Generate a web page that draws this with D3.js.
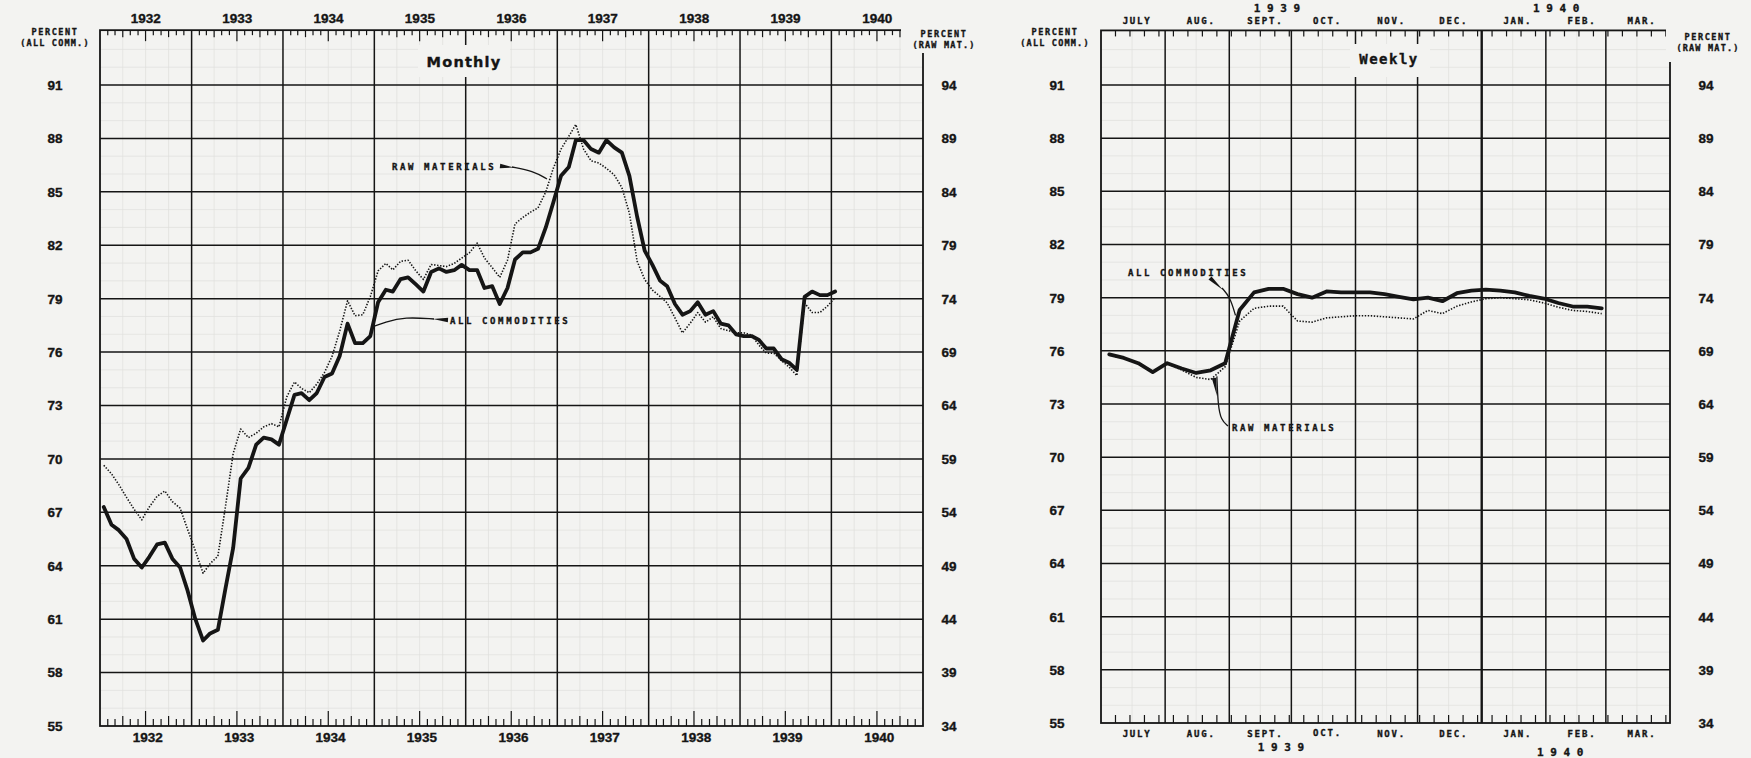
<!DOCTYPE html>
<html><head><meta charset="utf-8">
<script src="https://cdn.jsdelivr.net/npm/d3@7"></script>
<style>
body{margin:0;background:#f3f3f1;}
svg{display:block}
text{fill:#151515}
text.b{stroke:#151515;stroke-width:0.35px}
</style></head><body>
<svg id="c" width="1751" height="758"></svg>
<script>
// ---------- DATA ----------
const monthlyStart = [1932, 0];
const allCommMonthly = [
 67.3,66.3,66.0,65.5,64.4,63.9,64.5,65.2,65.3,64.4,63.9,62.6,
 61.0,59.8,60.2,60.4,62.7,65.0,68.9,69.5,70.8,71.2,71.1,70.8,
 72.2,73.6,73.7,73.3,73.7,74.6,74.8,75.8,77.6,76.5,76.5,76.9,
 78.8,79.5,79.4,80.1,80.2,79.8,79.4,80.5,80.7,80.5,80.6,80.9,
 80.6,80.6,79.6,79.7,78.7,79.6,81.2,81.6,81.6,81.8,83.0,84.4,
 85.9,86.4,87.9,87.9,87.4,87.2,87.9,87.5,87.2,85.9,83.6,81.7,
 80.9,80.0,79.7,78.7,78.1,78.3,78.8,78.1,78.3,77.6,77.5,77.0,
 76.9,76.9,76.7,76.2,76.2,75.6,75.4,75.0,79.1,79.4,79.2,79.2,
 79.4];
const rawMatMonthly = [
 58.4,57.6,56.6,55.4,54.3,53.3,54.5,55.5,56.0,55.0,54.4,52.4,
 50.4,48.3,49.2,49.9,54.5,59.5,61.8,61.0,61.4,62.0,62.3,62.0,
 64.8,66.2,65.6,65.2,66.0,67.1,68.6,71.0,73.8,72.4,72.5,74.2,
 76.6,77.3,76.7,77.5,77.6,76.6,75.8,77.2,77.1,77.0,77.3,77.8,
 78.3,79.2,77.8,76.9,76.0,77.6,81.0,81.6,82.1,82.5,84.0,86.2,
 88.0,89.2,90.3,88.0,86.9,86.7,86.2,85.6,84.4,82.0,77.5,75.8,
 74.8,74.2,73.6,72.2,70.8,71.7,72.7,71.8,72.3,71.2,71.0,70.8,
 70.8,70.6,69.7,68.9,68.9,68.2,67.6,66.8,73.6,72.7,72.7,73.3,
 74.1];
const weeklyDates = [
 "1939-07-05","1939-07-12","1939-07-19","1939-07-26","1939-08-02","1939-08-09","1939-08-16",
 "1939-08-23","1939-08-30","1939-09-06","1939-09-13","1939-09-20","1939-09-27","1939-10-04",
 "1939-10-11","1939-10-18","1939-10-25","1939-11-01","1939-11-08","1939-11-15","1939-11-22",
 "1939-11-29","1939-12-06","1939-12-13","1939-12-20","1939-12-27","1940-01-03","1940-01-10",
 "1940-01-17","1940-01-24","1940-01-31","1940-02-07","1940-02-14","1940-02-21","1940-02-28"];
const allCommWeekly = [
 75.8,75.6,75.3,74.8,75.3,75.0,74.75,74.9,75.3,78.3,79.3,79.5,79.5,79.2,
 79.0,79.35,79.3,79.3,79.3,79.2,79.05,78.9,79.0,78.8,79.25,79.4,79.45,79.4,
 79.3,79.1,78.95,78.7,78.5,78.5,78.4];
const rawMatWeekly = [
 68.6,68.3,67.8,67.0,67.8,67.2,66.5,66.3,67.5,71.8,73.0,73.2,73.2,71.8,
 71.7,72.1,72.2,72.3,72.3,72.2,72.1,72.0,72.8,72.5,73.2,73.6,73.9,74.0,
 73.9,73.8,73.5,73.1,72.8,72.7,72.5];
const yearLabels = ["1932","1933","1934","1935","1936","1937","1938","1939","1940"];
const monthLabels = ["JULY","AUG.","SEPT.","OCT.","NOV.","DEC.","JAN.","FEB.","MAR."];
const allCommTicks = [55,58,61,64,67,70,73,76,79,82,85,88,91];
const rawMatTicks  = [34,39,44,49,54,59,64,69,74,79,84,89,94];

// ---------- SETUP ----------
const svg = d3.select("#c");
const BG = "#f3f3f1", INK = "#151515";
svg.append("rect").attr("width",1751).attr("height",758).attr("fill",BG);
const mono = "'DejaVu Sans Mono', monospace";
const sans = "'Liberation Sans', Arial, sans-serif";
const parse = d3.timeParse("%Y-%m-%d");

const monthlyDates = allCommMonthly.map((d,i)=>new Date(monthlyStart[0], monthlyStart[1]+i, 16));
const wDates = weeklyDates.map(parse);

function drawPanel(o){
  const g = svg.append("g");
  const x = o.x, y = o.y, yr = o.yr;
  const [x0,x1] = x.range();
  const yTop = y(94.08), yBot = y(55);
  g.append("g").selectAll("line").data(d3.range(56,94,1).filter(v=>(v-55)%3!==0)).join("line")
    .attr("x1",x0).attr("x2",x1).attr("y1",d=>y(d)).attr("y2",d=>y(d))
    .attr("stroke","#e0e0dc").attr("stroke-width",0.7);
  g.append("g").selectAll("line").data(o.minorX).join("line")
    .attr("x1",d=>x(d)).attr("x2",d=>x(d)).attr("y1",yTop).attr("y2",yBot)
    .attr("stroke","#e0e0dc").attr("stroke-width",0.7);
  g.append("g").selectAll("line").data(allCommTicks.slice(1)).join("line")
    .attr("x1",x0).attr("x2",x1).attr("y1",d=>y(d)).attr("y2",d=>y(d))
    .attr("stroke",INK).attr("stroke-width",1.5);
  g.append("g").selectAll("line").data(o.majorX).join("line")
    .attr("x1",d=>x(d)).attr("x2",d=>x(d)).attr("y1",yTop).attr("y2",yBot)
    .attr("stroke",INK).attr("stroke-width",d=>o.heavyX && o.heavyX(d)?2.4:1.5);
  g.append("rect").attr("x",x0).attr("y",yTop).attr("width",x1-x0).attr("height",yBot-yTop)
    .attr("fill","none").attr("stroke",INK).attr("stroke-width",1.8);
  g.append("g").selectAll("line").data(o.ticks).join("line")
    .attr("x1",d=>x(d)).attr("x2",d=>x(d)).attr("y1",yTop).attr("y2",d=>yTop+o.topLen(d))
    .attr("stroke",INK).attr("stroke-width",1.2);
  g.append("g").selectAll("line").data(o.ticks).join("line")
    .attr("x1",d=>x(d)).attr("x2",d=>x(d)).attr("y1",yBot).attr("y2",d=>yBot-o.botLen(d))
    .attr("stroke",INK).attr("stroke-width",1.2);
  g.append("g").selectAll("text").data(allCommTicks).join("text").attr("class","b")
    .attr("x",o.leftLabX).attr("y",d=>y(d)).attr("dy","0.36em").attr("text-anchor","middle")
    .attr("font-family",sans).attr("font-weight","bold").attr("font-size",13.5).text(d=>d);
  g.append("g").selectAll("text").data(rawMatTicks).join("text").attr("class","b")
    .attr("x",o.rightLabX).attr("y",d=>yr(d)).attr("dy","0.36em").attr("text-anchor","middle")
    .attr("font-family",sans).attr("font-weight","bold").attr("font-size",13.5).text(d=>d);
  return g;
}

function pctLabel(cx, yy, second, bgW, bgH){
  if(bgW){
    svg.append("rect").attr("x",cx-bgW/2).attr("y",yy-12).attr("width",bgW).attr("height",bgH).attr("fill",BG);
  }
  svg.append("text").attr("class","b").attr("x",cx).attr("y",yy).attr("text-anchor","middle")
    .attr("font-family",mono).attr("font-weight","bold").attr("font-size",8.5)
    .attr("letter-spacing",1.6).text("PERCENT");
  svg.append("text").attr("class","b").attr("x",cx).attr("y",yy+11).attr("text-anchor","middle")
    .attr("font-family",mono).attr("font-weight","bold").attr("font-size",8.5)
    .attr("letter-spacing",1.2).text(second);
}

function series(g, x, y, dates, vals, thick){
  const line = d3.line().x((d,i)=>x(dates[i])).y(d=>y(d));
  g.append("path").datum(vals).attr("d",line).attr("fill","none").attr("stroke",INK)
    .attr("stroke-linejoin","round").attr("stroke-linecap",thick?"round":"butt")
    .attr("stroke-width",thick?3.8:1.6).attr("stroke-dasharray",thick?null:"1.4,1.6");
}

function note(txt, tx, ty, pts, wedgeAt){
  svg.append("text").attr("class","b").attr("x",tx).attr("y",ty).attr("dy","0.35em")
    .attr("font-family",mono).attr("font-weight","bold").attr("font-size",9)
    .attr("letter-spacing",2.6).text(txt);
  svg.append("path").attr("d",d3.line().curve(d3.curveBasis)(pts))
    .attr("fill","none").attr("stroke",INK).attr("stroke-width",1.3);
  if(wedgeAt){
    const [a,b] = wedgeAt;
    const dx=b[0]-a[0], dy=b[1]-a[1], L=Math.hypot(dx,dy), nx=-dy/L*2.2, ny=dx/L*2.2;
    svg.append("path").attr("d",`M${a[0]+nx},${a[1]+ny}L${b[0]},${b[1]}L${a[0]-nx},${a[1]-ny}Z`).attr("fill",INK);
  }
}

// ---------- LEFT (MONTHLY) ----------
const xL = d3.scaleTime().domain([new Date(1932,0,1), new Date(1941,0,1)]).range([100,923]);
const yL = d3.scaleLinear().domain([55,91]).range([726,85]);
const yLr = d3.scaleLinear().domain([34,94]).range([726,85]);
const monthsL = d3.timeMonth.range(new Date(1932,1,1), new Date(1941,0,1)).filter(d=>d.getMonth()!==0);
const gL = drawPanel({
  x:xL, y:yL, yr:yLr,
  minorX: d3.timeMonth.range(new Date(1932,0,1), new Date(1941,0,1), 3).filter(d=>d.getMonth()!==0),
  majorX: d3.timeYear.range(new Date(1933,0,1), new Date(1941,0,1)),
  ticks: monthsL,
  topLen: d=> d.getMonth()===6?11:(d.getMonth()%3===0?7:5),
  botLen: d=> d.getMonth()===6?15:(d.getMonth()%3===0?10:7),
  leftLabX:55, rightLabX:949
});
series(gL, xL, yLr, monthlyDates, rawMatMonthly, false);
series(gL, xL, yL, monthlyDates, allCommMonthly, true);

yearLabels.forEach(yv=>{
  const cx = xL(new Date(+yv,6,2));
  svg.append("text").attr("class","b").attr("x",cx).attr("y",23).attr("text-anchor","middle")
    .attr("font-family",sans).attr("font-weight","bold").attr("font-size",13.5).text(yv);
  svg.append("text").attr("class","b").attr("x",cx+2).attr("y",742).attr("text-anchor","middle")
    .attr("font-family",sans).attr("font-weight","bold").attr("font-size",13.5).text(yv);
});
svg.append("rect").attr("x",418).attr("y",45).attr("width",92).attr("height",32).attr("fill",BG);
svg.append("text").attr("class","b").attr("x",464).attr("y",67).attr("text-anchor","middle")
  .attr("font-family","'DejaVu Sans', sans-serif").attr("font-weight","bold").attr("font-size",14.5)
  .attr("letter-spacing",1.2).text("Monthly");
pctLabel(55, 35, "(ALL COMM.)");
pctLabel(944, 37, "(RAW MAT.)", 86, 28);

note("RAW MATERIALS", 392, 167,
  [[512,167],[533,171],[547,179]], [[500,166],[514,167.5]]);
note("ALL COMMODITIES", 450, 321,
  [[434,319],[405,317],[385,322],[xL(new Date(1934,11,20)), yL(77.4)]], [[448,320],[433,319]]);

// ---------- RIGHT (WEEKLY) ----------
const xR = d3.scaleTime().domain([new Date(1939,6,1), new Date(1940,3,1)]).range([1101,1670]);
const yR = d3.scaleLinear().domain([55,91]).range([723,85]);
const yRr = d3.scaleLinear().domain([34,94]).range([723,85]);
const gR = drawPanel({
  x:xR, y:yR, yr:yRr,
  minorX: d3.timeDay.range(new Date(1939,6,1), new Date(1940,3,1)).filter(d=>d.getDate()===16),
  majorX: d3.timeMonth.range(new Date(1939,7,1), new Date(1940,3,1)),
  heavyX: d=> d.getMonth()===0,
  ticks: d3.timeSaturday.range(new Date(1939,6,2), new Date(1940,2,31)),
  topLen: d=>6,
  botLen: d=>8,
  leftLabX:1057, rightLabX:1706
});
series(gR, xR, yRr, wDates, rawMatWeekly, false);
series(gR, xR, yR, wDates, allCommWeekly, true);

monthLabels.forEach((m,i)=>{
  const d = new Date(1939, 6+i, 17);
  const cx = xR(d)+3;
  svg.append("text").attr("class","b").attr("x",cx).attr("y",24).attr("text-anchor","middle")
    .attr("font-family",mono).attr("font-weight","bold").attr("font-size",9)
    .attr("letter-spacing",1.8).text(m);
  svg.append("text").attr("class","b").attr("x",cx).attr("y",m==="OCT."?736:737).attr("text-anchor","middle")
    .attr("font-family",mono).attr("font-weight","bold").attr("font-size",9)
    .attr("letter-spacing",1.8).text(m);
});
[["1 9 3 9", new Date(1939,8,24), 12, 751],["1 9 4 0", new Date(1940,1,6), 12, 756]].forEach(([t,d,yt,yb])=>{
  svg.append("text").attr("class","b").attr("x",xR(d)).attr("y",yt).attr("text-anchor","middle")
    .attr("font-family",mono).attr("font-weight","bold").attr("font-size",11).text(t);
  svg.append("text").attr("class","b").attr("x",xR(d)+4).attr("y",yb).attr("text-anchor","middle")
    .attr("font-family",mono).attr("font-weight","bold").attr("font-size",11).text(t);
});
svg.append("rect").attr("x",1350).attr("y",44).attr("width",80).attr("height",33).attr("fill",BG);
svg.append("text").attr("class","b").attr("x",1389).attr("y",64).attr("text-anchor","middle")
  .attr("font-family",mono).attr("font-weight","bold").attr("font-size",14)
  .attr("letter-spacing",1.5).text("Weekly");
pctLabel(1055, 35, "(ALL COMM.)");
pctLabel(1708, 40, "(RAW MAT.)", 84, 34);

note("ALL COMMODITIES", 1128, 273,
  [[1222,288],[1230,297],[xR(new Date(1939,8,4)), yR(78.0)]], [[1210,278],[1223,290]]);
note("RAW MATERIALS", 1232, 428,
  [[xR(new Date(1939,7,26)), yRr(66.6)],[1218,405],[1221,420],[1228,426]], [[1214,378],[1217,396]]);
</script>
</body></html>
